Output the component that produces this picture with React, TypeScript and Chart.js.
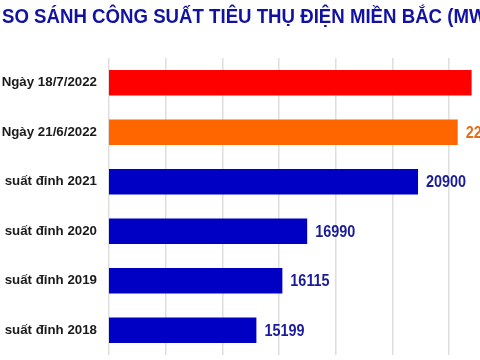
import React, { useEffect, useRef } from "react";
import { Chart, registerables } from "chart.js";

Chart.register(...registerables);

const TITLE = "SO SÁNH CÔNG SUẤT TIÊU THỤ ĐIỆN MIỀN BẮC (MW)";
const categories = [
  "Ngày 18/7/2022",
  "Ngày 21/6/2022",
  "suất đỉnh 2021",
  "suất đỉnh 2020",
  "suất đỉnh 2019",
  "suất đỉnh 2018",
];
const values = [22790, 22300, 20900, 16990, 16115, 15199];
const barColors = ["#ff0000", "#ff6600", "#0000c4", "#0000c4", "#0000c4", "#0000c4"];
const labelColors = ["#e00000", "#e0701c", "#1a1a9c", "#1a1a9c", "#1a1a9c", "#1a1a9c"];
const tickValues = [10000, 12000, 14000, 16000, 18000, 20000, 22000];
const axisMin = 10000;
const axisMax = 23086;

const FONT = "'Liberation Sans', Arial, sans-serif";

const titlePlugin = {
  id: "leftTitle",
  afterDraw(chart: any) {
    const ctx = chart.ctx;
    ctx.save();
    ctx.font = `bold 20.6px ${FONT}`;
    ctx.fillStyle = "#1212a0";
    ctx.textAlign = "left";
    ctx.textBaseline = "alphabetic";
    ctx.translate(2, 23);
    ctx.scale(0.905, 1);
    ctx.fillText(TITLE, 0, 0);
    ctx.restore();
  },
};

const valueLabelPlugin = {
  id: "valueLabels",
  afterDatasetsDraw(chart: any) {
    const ctx = chart.ctx;
    const meta = chart.getDatasetMeta(0);
    meta.data.forEach((bar: any, i: number) => {
      ctx.save();
      ctx.font = `bold 16px ${FONT}`;
      ctx.textAlign = "left";
      ctx.textBaseline = "middle";
      ctx.fillStyle = labelColors[i];
      ctx.translate(bar.x + 8, bar.y + 1);
      ctx.scale(0.9, 1);
      ctx.fillText(String(values[i]), 0, 0);
      ctx.restore();
    });
  },
};

export default function App() {
  const ref = useRef<HTMLCanvasElement>(null);
  useEffect(() => {
    document.body.style.margin = "0";
    const chart = new Chart(ref.current!, {
      type: "bar",
      data: {
        labels: categories,
        datasets: [
          {
            data: values,
            backgroundColor: barColors,
            borderWidth: 0,
            barPercentage: 0.52,
            categoryPercentage: 1,
          },
        ],
      },
      options: {
        indexAxis: "y",
        animation: false,
        responsive: false,
        maintainAspectRatio: false,
        layout: { padding: { top: 58, bottom: 5, left: 0, right: 0 } },
        plugins: {
          legend: { display: false },
          title: { display: false },
          tooltip: { enabled: false },
        },
        scales: {
          x: {
            min: axisMin,
            max: axisMax,
            afterBuildTicks: (scale: any) => {
              scale.ticks = tickValues.map((v) => ({ value: v }));
            },
            afterFit: (scale: any) => {
              scale.height = 0;
              scale.paddingLeft = 0;
              scale.paddingRight = 0;
            },
            ticks: { display: false, autoSkip: false },
            border: { display: false },
            grid: {
              drawTicks: false,
              lineWidth: 1.5,
              color: "#dedede",
            },
          },
          y: {
            afterFit: (scale: any) => {
              scale.width = 109;
              scale.paddingTop = 0;
              scale.paddingBottom = 0;
            },
            border: { display: false },
            grid: { display: false, drawTicks: false },
            ticks: {
              padding: 12,
              color: "#1a1a1a",
              font: { family: FONT, size: 13.3, weight: "bold" },
            },
          },
        },
      },
      plugins: [titlePlugin, valueLabelPlugin],
    });
    return () => chart.destroy();
  }, []);
  return (
    <div style={{ position: "absolute", left: 0, top: 0, width: 480, height: 360, background: "#fff" }}>
      <canvas ref={ref} width={480} height={360} />
    </div>
  );
}
